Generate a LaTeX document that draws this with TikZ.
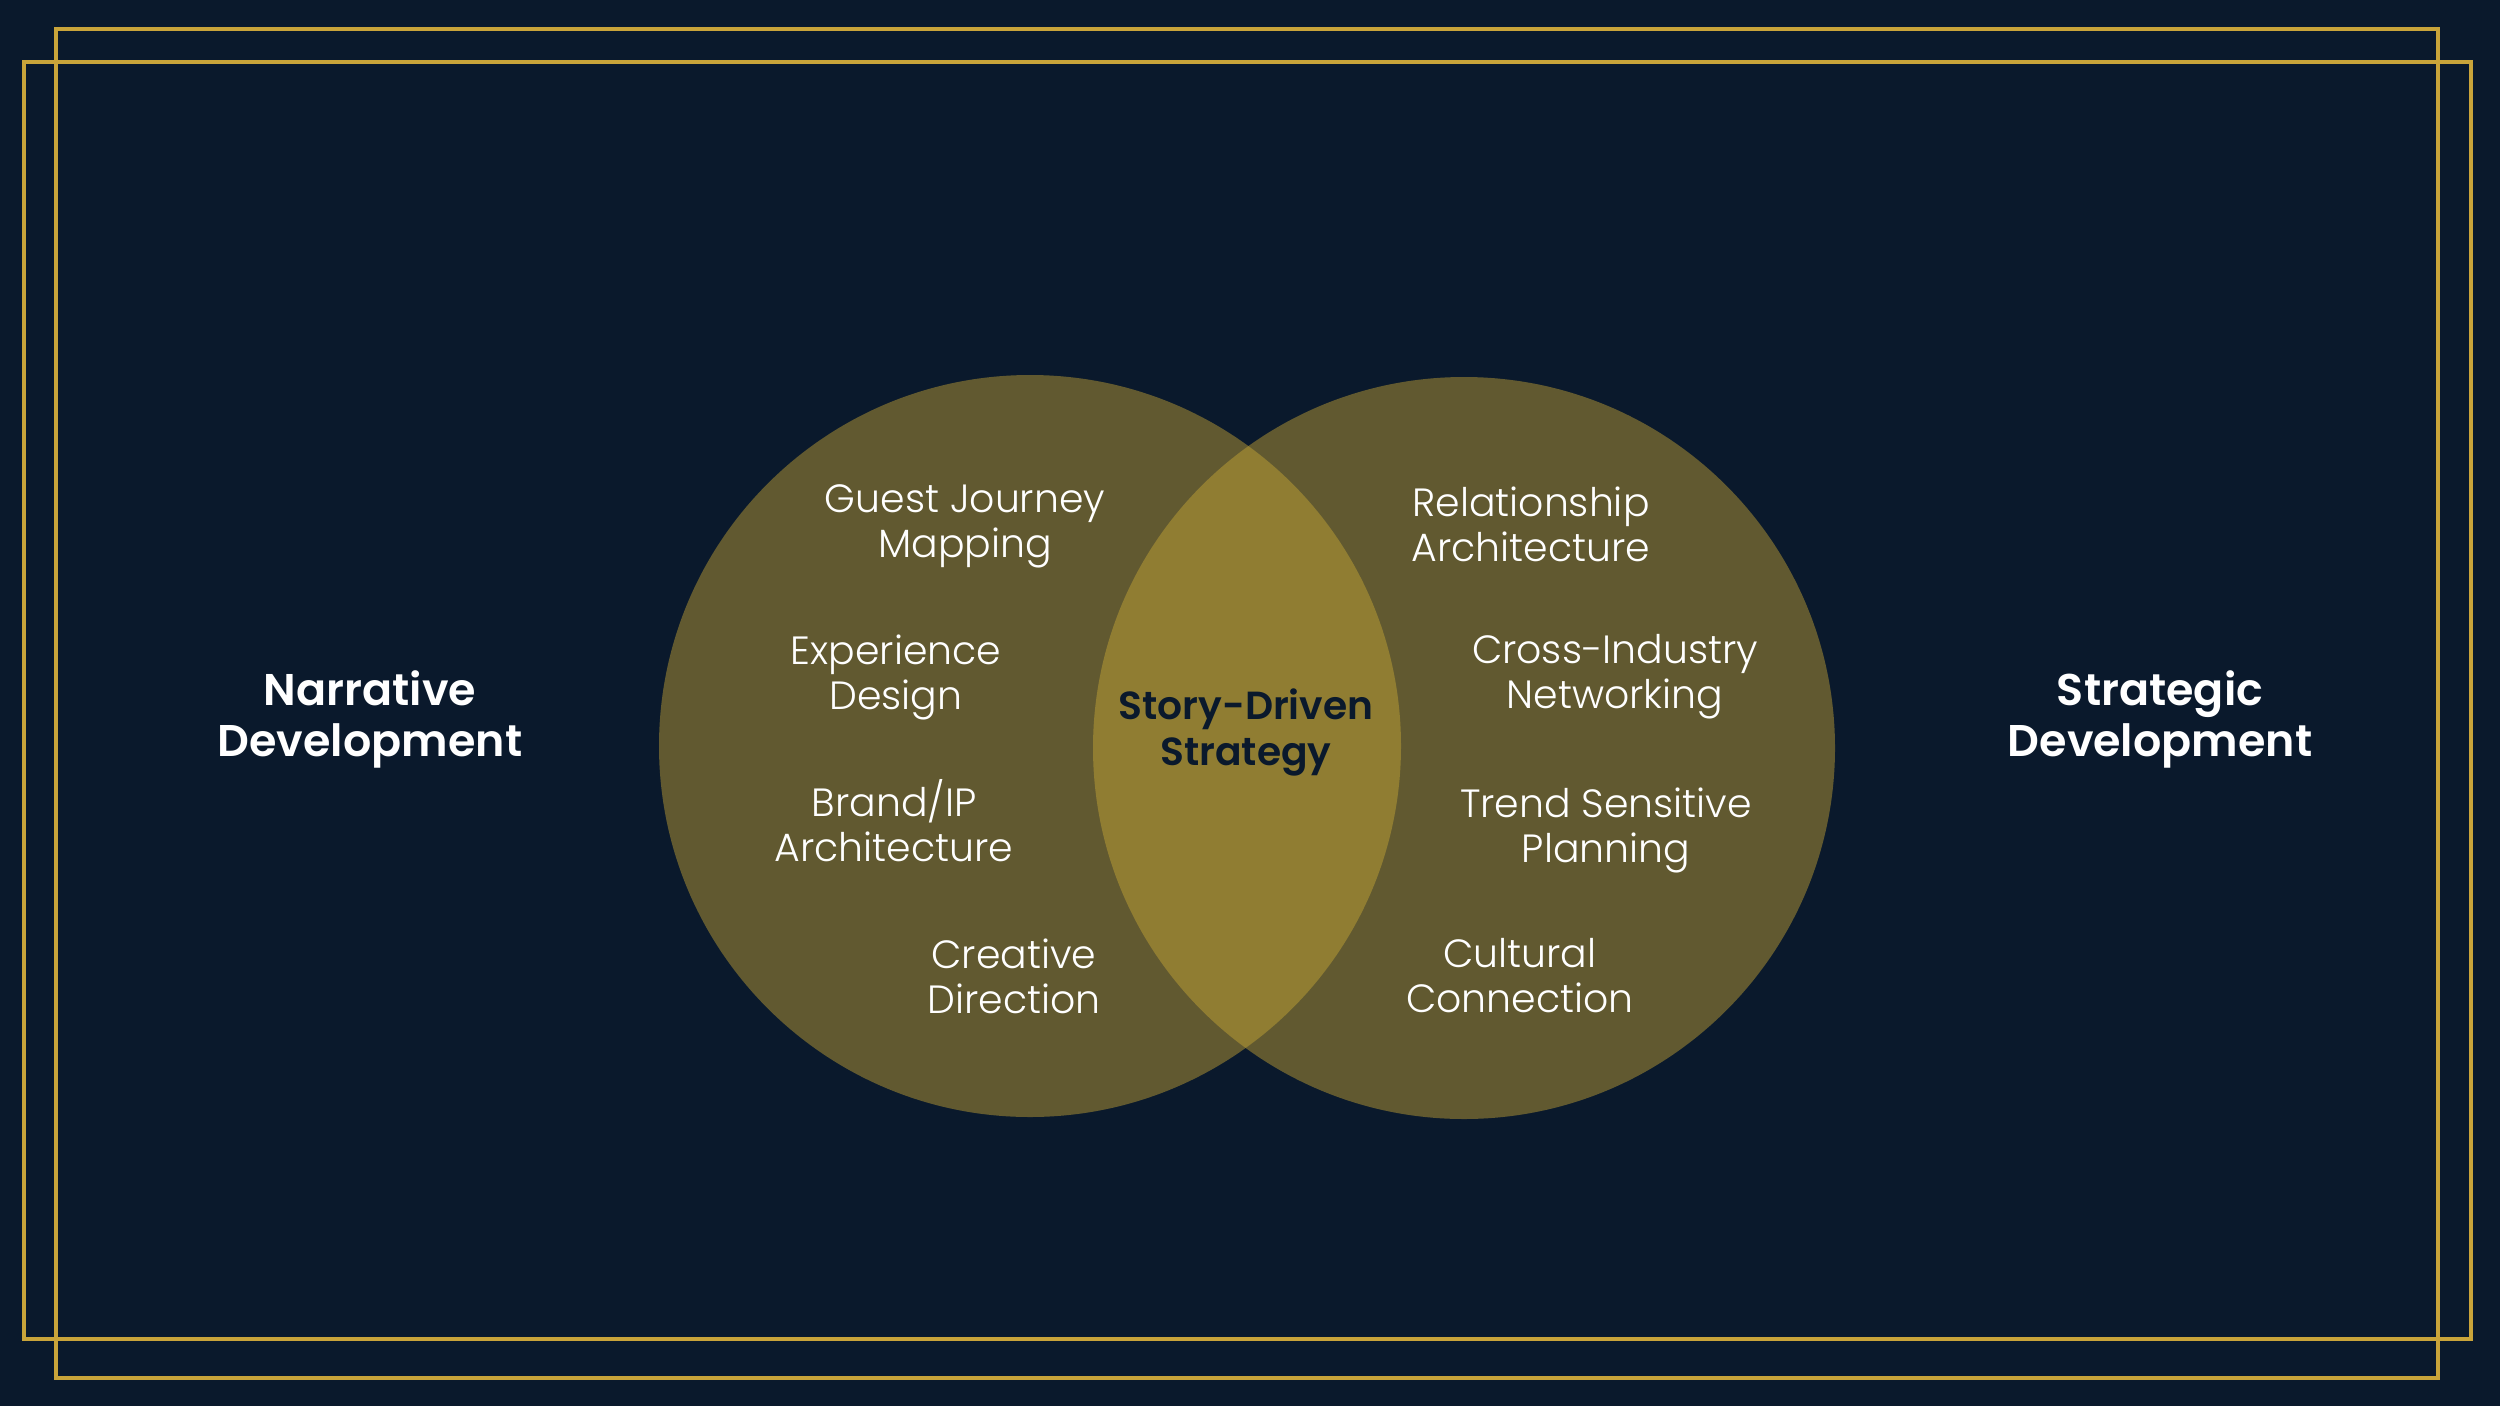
\documentclass[tikz,border=0pt]{standalone}
\usepackage{fontspec}
\setmainfont{Poppins}
\newfontfamily\poplight{Poppins Light}
\newfontfamily\popsemi{Poppins SemiBold}
\definecolor{navy}{HTML}{0A192C}
\definecolor{gold}{HTML}{CBA935}
\definecolor{framegold}{HTML}{C9A43A}
\tikzset{
  frame/.style={draw=framegold, line width=4pt},
  venn/.style={fill=gold, fill opacity=0.45, draw=none},
  item/.style={text=white, align=center, font=\poplight\fontsize{39.4}{45}\selectfont, inner sep=0pt},
  side/.style={text=white, align=center, font=\popsemi\fontsize{44.4}{51}\selectfont, inner sep=0pt},
  core/.style={text=navy, align=center, font=\popsemi\fontsize{39.2}{46}\selectfont, inner sep=0pt}
}
\begin{document}
\begin{tikzpicture}[x=1pt,y=-1pt]
\useasboundingbox (0,0) rectangle (2500,1406);
\fill[navy] (0,0) rectangle (2500,1406);
\draw[frame] (56,29) rectangle (2438,1378);
\draw[frame] (24,62) rectangle (2471,1339);
\fill[venn] (1030,746) circle (371);
\fill[venn] (1464,748) circle (371);
\node[side] (nd) at (370,719) {Narrative\\Development};
\node[side] (sd) at (2160,719) {Strategic\\Development};
\node[core] (sds) at (1246,732) {Story-Driven\\Strategy};
\node[item] (gj) at (965,526) {Guest Journey\\Mapping};
\node[item] (ed) at (896,677) {Experience\\Design};
\node[item] (bi) at (894,821) {Brand/IP\\Architecture};
\node[item] (cd) at (1014,976) {Creative\\Direction};
\node[item] (ra) at (1531,524) {Relationship\\Architecture};
\node[item] (ci) at (1615,677) {Cross-Industry\\Networking};
\node[item] (ts) at (1606,830) {Trend Sensitive\\Planning};
\node[item] (cc) at (1520,976) {Cultural\\Connection};
\end{tikzpicture}
\end{document}
